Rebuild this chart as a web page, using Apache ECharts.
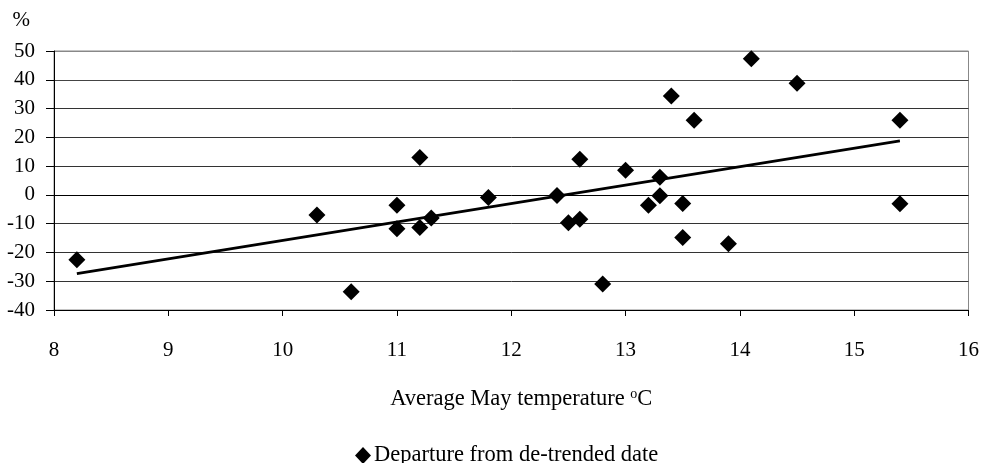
<!DOCTYPE html>
<html>
<head>
<meta charset="utf-8">
<script src="https://cdn.jsdelivr.net/npm/echarts@6/dist/echarts.min.js"></script>
<style>html,body{margin:0;padding:0;background:#fff;}#c{width:982px;height:463px;}</style>
</head>
<body>
<div id="c"></div>
<script>
var temps = [8.2, 10.3, 10.6, 11.0, 11.0, 11.2, 11.2, 11.3, 11.8, 12.4, 12.5, 12.6, 12.6, 12.8, 13.0, 13.2, 13.3, 13.3, 13.4, 13.5, 13.5, 13.6, 13.9, 14.1, 14.5, 15.4, 15.4];
var departures = [-22.5, -7, -33.7, -3.6, -11.8, 13, -11.3, -8, -0.9, -0.2, -9.7, -8.5, 12.4, -31, 8.6, -3.6, 6.1, -0.3, 34.4, -3, -14.8, 25.9, -17, 47.3, 38.8, 25.9, -3.1];
var trendX = [8.2, 15.4];
var trendY = [-27.4, 18.8];
var seriesName = 'Departure from de-trended date';

var font = '"Liberation Serif", "Times New Roman", serif';
var scatterData = temps.map(function (t, i) { return [t, departures[i]]; });
var trendData = trendX.map(function (t, i) { return [t, trendY[i]]; });

var chart = echarts.init(document.getElementById('c'));
chart.setOption({
  animation: false,
  backgroundColor: '#fff',
  textStyle: { fontFamily: font, color: '#000' },
  grid: { left: 54, right: 13, top: 51, bottom: 153, show: true, borderColor: '#888', borderWidth: 1, containLabel: false },
  legend: {
    data: [{ name: seriesName, icon: 'diamond', itemStyle: { color: '#000', opacity: 1 } }],
    top: 439, left: 350,
    itemWidth: 16, itemHeight: 17, itemGap: 10,
    textStyle: { fontFamily: font, fontSize: 22.5, color: '#000', padding: [0, 0, 0, -2] }
  },
  xAxis: {
    type: 'value', min: 8, max: 16, interval: 1,
    name: 'Average May temperature {sup|o}C',
    nameLocation: 'middle', nameGap: 77,
    nameTextStyle: {
      fontFamily: font, fontSize: 22.5, color: '#000', padding: [0, 0, 0, 20],
      rich: { sup: { fontFamily: font, fontSize: 14, verticalAlign: 'top', padding: [0, 0, 10, 0] } }
    },
    axisLine: { show: true, onZero: false, lineStyle: { color: '#000', width: 1 } },
    axisTick: { show: true, length: 6, lineStyle: { color: '#000' } },
    axisLabel: { fontFamily: font, fontSize: 21, color: '#000', margin: 30 },
    splitLine: { show: false }
  },
  yAxis: {
    type: 'value', min: -40, max: 50, interval: 10,
    name: '%', nameLocation: 'end', nameGap: 20,
    nameTextStyle: { fontFamily: font, fontSize: 21, color: '#000', align: 'right', padding: [0, 24, 0, 0] },
    axisLine: { show: true, onZero: false, lineStyle: { color: '#000', width: 1 } },
    axisTick: { show: true, length: 8, lineStyle: { color: '#000' } },
    axisLabel: { fontFamily: font, fontSize: 21, color: '#000', margin: 19 },
    splitLine: { show: true, lineStyle: { color: ['#000', '#333', '#333', '#333', '#000', '#333', '#333', '#333', '#444', '#888'], width: 1 } }
  },
  series: [
    {
      name: seriesName, type: 'scatter', data: scatterData,
      symbol: 'diamond', symbolSize: 17,
      itemStyle: { color: '#000', opacity: 1 }, z: 3
    },
    {
      name: 'trend', type: 'line', data: trendData,
      showSymbol: false, symbol: 'none',
      lineStyle: { color: '#000', width: 2.8 }, z: 2
    }
  ]
});
</script>
</body>
</html>
